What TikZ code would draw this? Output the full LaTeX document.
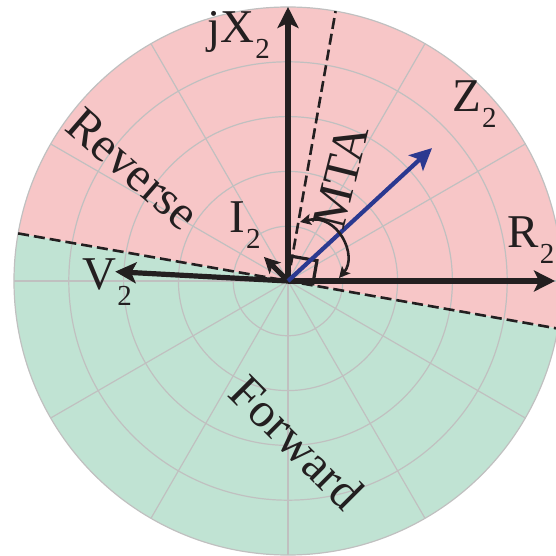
\documentclass[tikz,border=0pt]{standalone}
\usepackage{fontspec}
\setmainfont{Liberation Serif}
\usetikzlibrary{arrows.meta}
\definecolor{revpink}{RGB}{247,198,199}
\definecolor{fwdgreen}{RGB}{192,227,211}
\definecolor{gridgray}{RGB}{192,192,192}
\definecolor{zblue}{RGB}{43,57,144}
\definecolor{inkblack}{RGB}{35,31,32}
\newcommand{\sublab}[2]{#1\kern0.5pt\raisebox{-7.7pt}{\fontsize{14.5}{14.5}\selectfont #2}}
\begin{document}
\begin{tikzpicture}[x=0.5pt,y=0.5pt,
  gridline/.style={draw=gridgray, line width=0.6pt},
  bdash/.style={draw=inkblack, line width=1.3pt, dash pattern=on 5.5pt off 2.5pt},
  axis/.style={draw=inkblack, line width=2.6pt, -{Stealth[length=10.5pt,width=10.5pt,inset=2.5pt]}},
  smallaxis/.style={draw=inkblack, line width=2.5pt, -{Stealth[length=8pt,width=8pt,inset=2pt]}},
  zarrow/.style={draw=zblue, line width=2.1pt, -{Stealth[length=11pt,width=10.5pt,inset=2.5pt]}},
  arcarrow/.style={draw=inkblack, line width=1.3pt, {Stealth[length=5.5pt,width=5.5pt,inset=1.2pt]}-{Stealth[length=5.5pt,width=5.5pt,inset=1.2pt]}},
  ramark/.style={draw=inkblack, line width=1.6pt},
  lab/.style={inner sep=0pt, anchor=base west, text=inkblack, font=\fontsize{23.5}{28}\selectfont},
  region/.style={inner sep=0pt, text=inkblack, font=\fontsize{24.5}{29}\selectfont}]
\useasboundingbox (-288,-275) rectangle (268,281);
\clip (-288,-275) rectangle (268,281);
\coordinate (O) at (0,0);
% half-planes
\fill[revpink] (O) -- (-10:274) arc[start angle=-10,end angle=170,radius=274] -- cycle;
\fill[fwdgreen] (O) -- (170:274) arc[start angle=170,end angle=350,radius=274] -- cycle;
% polar grid
\foreach \r in {54.8,109.6,164.4,219.2,274} \draw[gridline] (O) circle[radius=\r];
\foreach \a in {0,30,...,330} \draw[gridline] (O) -- (\a:274);
% boundary and MTA lines
\coordinate (BL) at (170:274);
\coordinate (BR) at (-10:300);
\coordinate (MT) at (80:274);
\draw[bdash] (BL) -- (BR);
\draw[bdash] (O) -- (MT);
% right-angle mark
\coordinate (RA1) at (80:25);
\coordinate (RA2) at (28.96,20.28);
\coordinate (RA3) at (-10:25);
\draw[ramark] (RA1) -- (RA2) -- (RA3);
% axes and phasors
\coordinate (Xtip) at (90:274);
\coordinate (Rtip) at (267,0);
\coordinate (Vtip) at (176.9:173);
\coordinate (Itip) at (135:34);
\coordinate (Ztip) at (42.7:196);
\draw[axis] (O) -- (Xtip);
\draw[axis] (O) -- (Rtip);
\draw[axis] (O) -- (Vtip);
\draw[smallaxis] (O) -- (Itip);
\draw[zarrow] (O) -- (Ztip);
% MTA arc
\coordinate (A1) at (12,59);
\coordinate (A2) at (51,3);
\draw[arcarrow] (A1) .. controls (50,68) and (70,25) .. (A2);
% labels
\node[lab] (jx) at (-81,238) {\sublab{jX}{2}};
\node[lab] (r2) at (219,33) {\sublab{R}{2}};
\node[lab] (z2) at (164,169) {\sublab{Z}{2}};
\node[lab] (i2) at (-59,48) {\sublab{I}{2}};
\node[lab] (v2) at (-206,-9) {\sublab{V}{2}};
\node[region, rotate=-41] (rev) at (-155,112) {Reverse};
\node[region, rotate=-45] (fwd) at (9,-161) {Forward};
\node[region, rotate=76] (mta) at (53,104) {MTA};
\end{tikzpicture}
\end{document}
